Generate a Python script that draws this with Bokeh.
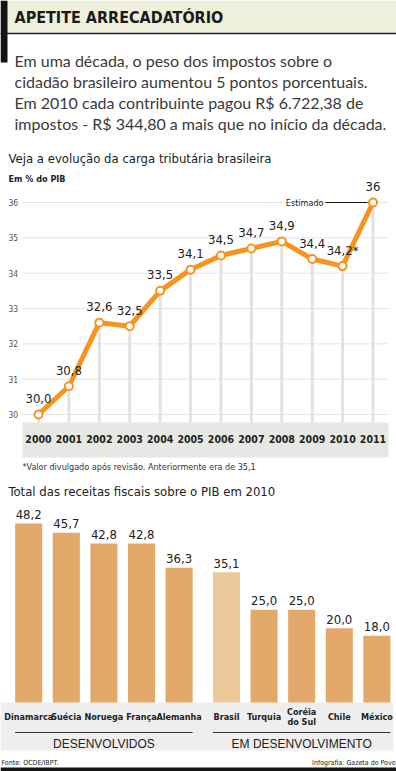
from bokeh.plotting import figure
from bokeh.models import Range1d
from bokeh.core.properties import value
from bokeh.embed import file_html
from bokeh.resources import INLINE

# ---------------- data ----------------
years = [2000, 2001, 2002, 2003, 2004, 2005, 2006, 2007, 2008, 2009, 2010, 2011]
carga = [30.0, 30.8, 32.6, 32.5, 33.5, 34.1, 34.5, 34.7, 34.9, 34.4, 34.2, 36.0]
carga_labels = ["30,0", "30,8", "32,6", "32,5", "33,5", "34,1", "34,5", "34,7",
                "34,9", "34,4", "34,2*", "36"]
y_ticks = [30, 31, 32, 33, 34, 35, 36]
y_tick_labels = ["30", "31", "32", "33", "34", "35", "36"]

paises = ["Dinamarca", "Suécia", "Noruega", "França", "Alemanha",
          "Brasil", "Turquia", "Coréia\ndo Sul", "Chile", "México"]
grupos = ["DESENVOLVIDOS"] * 5 + ["EM DESENVOLVIMENTO"] * 5
receitas = [48.2, 45.7, 42.8, 42.8, 36.3, 35.1, 25.0, 25.0, 20.0, 18.0]
receitas_labels = ["48,2", "45,7", "42,8", "42,8", "36,3", "35,1", "25,0", "25,0", "20,0", "18,0"]

titulo = "APETITE ARRECADATÓRIO"
paragrafo = ["Em uma década, o peso dos impostos sobre o",
             "cidadão brasileiro aumentou 5 pontos porcentuais.",
             "Em 2010 cada contribuinte pagou R$ 6.722,38 de",
             "impostos - R$ 344,80 a mais que no início da década."]

# ---------------- style ----------------
NARROW = "DejaVu Sans Condensed, Roboto Condensed, Roboto"
SANS = "Lato"
ORANGE = "#f7941d"
BAR = "#e3a96b"
BAR_BR = "#edc898"
W, H = 396, 771

p = figure(width=W, height=H, x_range=Range1d(0, W), y_range=Range1d(H, 0),
           output_backend="svg", toolbar_location=None, min_border=0,
           x_axis_type=None, y_axis_type=None, outline_line_color=None,
           background_fill_color="white", border_fill_color="white")
p.grid.visible = False

# scales for the line chart (px = a + b*value)
yr_px0, yr_step = 38.0, 30.41
pct_px0, pct_step = 414.0, 35.33
p.extra_x_ranges["yr"] = Range1d(years[0] - yr_px0 / yr_step, years[0] + (W - yr_px0) / yr_step)
p.extra_y_ranges["pct"] = Range1d(30 - (H - pct_px0) / pct_step, 30 + pct_px0 / pct_step)
# scales for the bar chart
bx_px0, bx_step = 28.2, 37.6
by_px0, by_step = 702.0, 3.714
p.extra_x_ranges["bx"] = Range1d(-bx_px0 / bx_step, (W - bx_px0) / bx_step)
p.extra_y_ranges["by"] = Range1d(-(H - by_px0) / by_step, by_px0 / by_step)

# ---------------- header ----------------
p.quad(left=0, right=W, top=0, bottom=33, fill_color="#eef0dc", line_color=None)
p.segment(x0=0, x1=W, y0=33, y1=33, line_color="#222222", line_width=1.5)
p.quad(left=0, right=7, top=0, bottom=62, fill_color="#141414", line_color=None)
p.text(x=[14], y=[17], text=[titulo], text_font=value(NARROW), text_font_style="bold",
       text_font_size="16px", text_color="#1b1b1b", text_baseline="middle")
p.text(x=[14] * 4, y=[60, 81, 102, 123], text=paragrafo, text_font=value(SANS),
       text_font_size="16px", text_color="#3a3a3a", text_baseline="middle")

# ---------------- line chart ----------------
p.text(x=[8], y=[158], text=["Veja a evolução da carga tributária brasileira"],
       text_font=value(NARROW), text_font_size="13px", text_color="#222222",
       text_baseline="middle")
p.text(x=[8], y=[178], text=["Em % do PIB"], text_font=value(NARROW), text_font_style="bold",
       text_font_size="9px", text_color="#222222", text_baseline="middle")

band_top = 30 - (422 - pct_px0) / pct_step
# horizontal grid
p.segment(x0=[22] * len(y_ticks), x1=[388] * len(y_ticks), y0=y_ticks, y1=y_ticks,
          y_range_name="pct", line_color="#e4e4e4", line_width=1)
p.text(x=[8] * len(y_ticks), y=y_ticks, text=y_tick_labels, y_range_name="pct",
       text_font=value(NARROW), text_font_size="8.5px", text_color="#555555",
       text_baseline="middle")
# vertical drop lines
p.segment(x0=years, x1=years, y0=carga, y1=[band_top] * len(years),
          x_range_name="yr", y_range_name="pct", line_color="#e2e2e2", line_width=3)
# year band
p.quad(left=22, right=388, top=422, bottom=457, fill_color="#e6e8e3", line_color=None)
p.text(x=years, y=[438] * len(years), text=[str(y) for y in years], x_range_name="yr",
       text_font=value(NARROW), text_font_style="bold", text_font_size="10.5px",
       text_color="#222222", text_align="center", text_baseline="middle")
# line and markers
p.line(x=years, y=carga, x_range_name="yr", y_range_name="pct", line_color=ORANGE,
       line_width=5, line_join="round")
p.scatter(x=years, y=carga, x_range_name="yr", y_range_name="pct", size=8,
          fill_color="white", line_color=ORANGE, line_width=2)
p.text(x=years, y=carga, text=carga_labels, x_range_name="yr", y_range_name="pct",
       y_offset=-16, text_font=value(NARROW), text_font_size="13px", text_color="#222222",
       text_align="center", text_baseline="middle")
# Estimado
p.segment(x0=[325], x1=[367], y0=[202], y1=[202], line_color="#111111", line_width=1)
p.text(x=[323], y=[202], text=["Estimado"], text_font=value(NARROW), text_font_size="9px",
       text_color="#222222", text_align="right", text_baseline="middle")
p.text(x=[22], y=[466], text=["*Valor divulgado após revisão. Anteriormente era de 35,1"],
       text_font=value(NARROW), text_font_size="9px", text_color="#333333",
       text_baseline="middle")

# ---------------- bar chart ----------------
p.text(x=[8], y=[491], text=["Total das receitas fiscais sobre o PIB em 2010"],
       text_font=value(NARROW), text_font_size="13px", text_color="#222222",
       text_baseline="middle")
p.quad(left=0, right=393, top=702, bottom=750, fill_color="#eeeeee", line_color=None)

gap = 0.26
pos = [i + (gap if grupos[i] != grupos[0] else 0) for i in range(len(paises))]
cores = [BAR_BR if n == "Brasil" else BAR for n in paises]
p.vbar(x=pos, top=receitas, bottom=0, width=0.72, x_range_name="bx", y_range_name="by",
       fill_color=cores, line_color=None)
p.text(x=pos, y=receitas, text=receitas_labels, x_range_name="bx", y_range_name="by",
       y_offset=-9, text_font=value(NARROW), text_font_size="13px", text_color="#222222",
       text_align="center", text_baseline="middle")
p.text(x=pos, y=[716] * len(pos), text=paises, x_range_name="bx",
       text_font=value(NARROW), text_font_style="bold", text_font_size="9px",
       text_color="#222222", text_align="center", text_baseline="middle",
       text_line_height=1.0)
for g in ["DESENVOLVIDOS", "EM DESENVOLVIMENTO"]:
    gp = [pos[i] for i in range(len(pos)) if grupos[i] == g]
    p.segment(x0=[gp[0] - 0.36], x1=[gp[-1] + 0.36], y0=[732], y1=[732], x_range_name="bx",
              line_color="#333333", line_width=1.2)
    p.text(x=[sum(gp) / len(gp)], y=[743], text=[g], x_range_name="bx",
           text_font=value("Liberation Sans"), text_font_size="12px", text_color="#222222",
           text_align="center", text_baseline="middle")

# ---------------- footer ----------------
p.text(x=[1], y=[762], text=["Fonte: OCDE/IBPT."], text_font=value(NARROW),
       text_font_size="7px", text_color="#222222", text_baseline="middle")
p.text(x=[395], y=[762], text=["Infografia: Gazeta do Povo"], text_font=value(NARROW),
       text_font_size="7px", text_color="#222222", text_align="right", text_baseline="middle")
p.quad(left=0, right=W, top=767, bottom=H, fill_color="#141414", line_color=None)

open("out.html", "w").write(file_html(p, INLINE))
